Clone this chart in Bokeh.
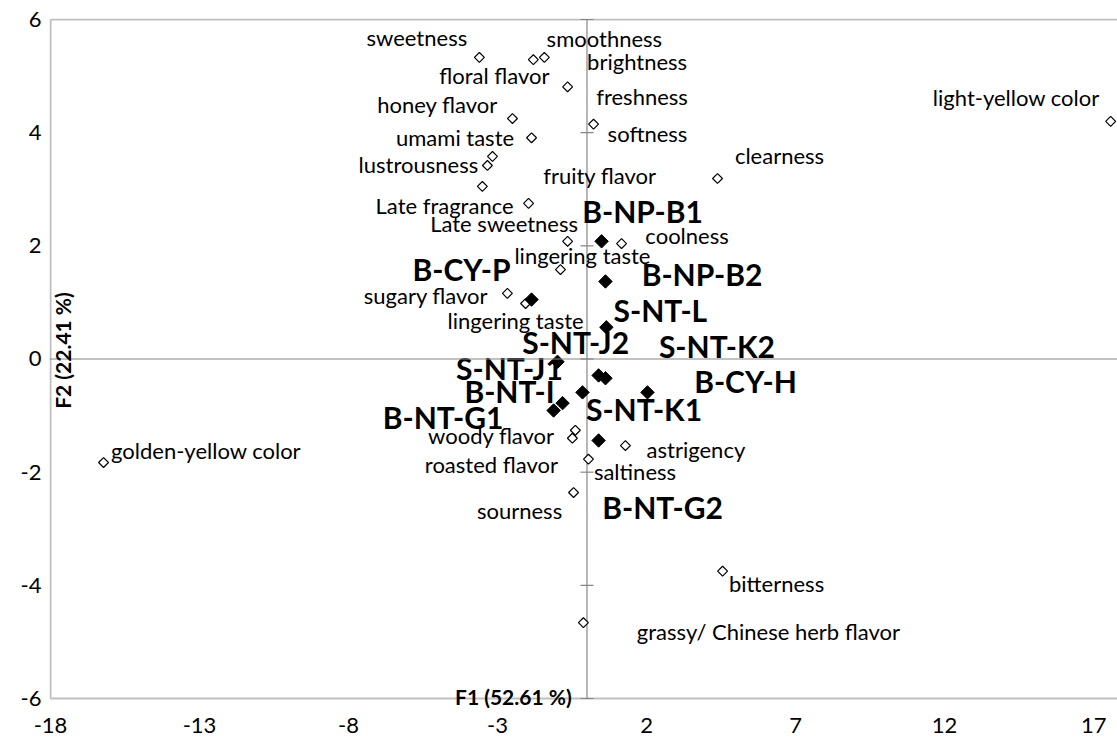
import math
from bokeh.plotting import figure
from bokeh.models import ColumnDataSource, LinearAxis, FixedTicker, Range1d, Label, Span
from bokeh.core.properties import value
from bokeh.embed import file_html
from bokeh.resources import INLINE

# ---------------- data ----------------
attr_names = ["sweetness", "floral flavor", "smoothness", "brightness", "honey flavor",
              "umami taste", "freshness", "softness", "lustrousness", "fruity flavor",
              "clearness", "Late fragrance", "Late sweetness", "coolness", "lingering taste",
              "sugary flavor", "lingering taste", "woody flavor", "roasted flavor", "astrigency",
              "saltiness", "sourness", "bitterness", "grassy/ Chinese herb flavor",
              "golden-yellow color", "light-yellow color"]
attr_f1 = [-3.61, -1.80, -1.43, -0.65, -2.50, -1.86, 0.22, -3.17, -3.34, -3.51,
           4.38, -1.96, -0.65, 1.16, -0.89, -2.67, -2.06, -0.39, -0.49, 1.29,
           0.05, -0.45, 4.55, -0.12, -16.22, 17.57]
attr_f2 = [5.33, 5.29, 5.33, 4.81, 4.25, 3.91, 4.15, 3.58, 3.42, 3.05,
           3.19, 2.75, 2.08, 2.04, 1.58, 1.16, 0.98, -1.26, -1.40, -1.53,
           -1.77, -2.36, -3.75, -4.66, -1.83, 4.20]

sample_names = ["B-NP-B1", "B-NP-B2", "B-CY-P", "S-NT-L", "S-NT-J1", "S-NT-J2",
                "S-NT-K2", "B-CY-H", "S-NT-K1", "B-NT-I", "B-NT-G1", "B-NT-G2"]
sample_f1 = [0.49, 0.62, -1.86, 0.65, -0.99, 0.39, 0.62, 2.03, -0.15, -0.82, -1.12, 0.39]
sample_f2 = [2.08, 1.37, 1.05, 0.56, -0.05, -0.29, -0.34, -0.59, -0.59, -0.78, -0.91, -1.44]

x_ticks = [-18, -13, -8, -3, 2, 7, 12, 17]
y_ticks = [-6, -4, -2, 0, 2, 4, 6]
x_title = "F1 (52.61 %)"
y_title = "F2 (22.41 %)"

# ---------------- layout ----------------
X_MIN, X_MAX = x_ticks[0], 17.8
Y_MIN, Y_MAX = y_ticks[0], y_ticks[-1]
PX_X = 29.8      # pixels per F1 unit
PX_Y = 56.58     # pixels per F2 unit

# label layout (pixel offsets from the marker)
attr_dx = [-62.5, -39, 60, 69.5, -75, -76.5, 48.5, 155, -69, 117.5,
           62, -84, -63.5, 65.5, 22, -81.5, -10, -84, -81, 70.5,
           46.5, -54, 54, 185, 102.5, -11]
attr_dy = [-20, 16, -19, -25, -14, 0, -28, -23, -1, -11,
           -23, 2, -18, -8, -14, 2, 17, 5, 26, 4,
           12, 18, 12, 9, -12, -24]
attr_align = ["center"] * 25 + ["right"]

sample_dx = [41, 96.5, -70, 54, -48, -23, 111.5, 98, 61.5, -53, -110.5, 64]
sample_dy = [-30, -7, -31, -17, 6, -33, -32, -11, 17, -12, 7, 67]

FONT = "Lato"
AXIS_GREY = "#868686"
FRAME_GREY = "#BFBFBF"

attr_src = ColumnDataSource(dict(x=attr_f1, y=attr_f2, name=attr_names,
                                 dx=attr_dx, dy=attr_dy, align=attr_align))
sample_src = ColumnDataSource(dict(x=sample_f1, y=sample_f2, name=sample_names,
                                   dx=sample_dx, dy=sample_dy))
ytick_src = ColumnDataSource(dict(x=[0] * len(y_ticks), y=y_ticks))

p = figure(width=1117, height=740, output_backend="svg", toolbar_location=None,
           x_range=Range1d(X_MIN - 1 / PX_X, X_MAX),
           y_range=Range1d(Y_MIN - 10 / PX_Y, Y_MAX + 1 / PX_Y),
           x_axis_type=None, y_axis_type=None,
           min_border_left=49, min_border_right=0, min_border_top=18, min_border_bottom=32)
p.xgrid.visible = False
p.ygrid.visible = False
p.outline_line_color = None
p.background_fill_color = "white"
p.border_fill_color = "white"

# tick-label axes
xlab = LinearAxis(ticker=FixedTicker(ticks=x_ticks), axis_line_color=None,
                  major_tick_line_color=None, minor_tick_line_color=None,
                  major_tick_in=0, major_tick_out=0,
                  major_label_text_font=FONT, major_label_text_font_size="22px",
                  major_label_text_color="black", major_label_standoff=9,
                  major_label_overrides={t: str(t) for t in x_ticks})
ylab = LinearAxis(ticker=FixedTicker(ticks=y_ticks), axis_line_color=None,
                  major_tick_line_color=None, minor_tick_line_color=None,
                  major_tick_in=0, major_tick_out=0,
                  major_label_text_font=FONT, major_label_text_font_size="22px",
                  major_label_text_color="black", major_label_standoff=8,
                  major_label_overrides={t: str(t) for t in y_ticks})
p.add_layout(xlab, "below")
p.add_layout(ylab, "left")

# plot-area border (left, top, bottom)
p.segment(x0=[X_MIN, X_MIN, X_MIN], y0=[Y_MIN, Y_MAX, Y_MIN],
          x1=[X_MIN, X_MAX, X_MAX], y1=[Y_MAX, Y_MAX, Y_MIN],
          line_color=FRAME_GREY, line_width=2)

# axes crossing at the origin
p.add_layout(Span(location=0, dimension="width", line_color=AXIS_GREY, line_width=1.2))
p.segment(x0=[0], y0=[Y_MIN], x1=[0], y1=[Y_MAX], line_color=AXIS_GREY, line_width=1.2)
p.scatter(x="x", y="y", source=ytick_src, marker="dash", size=13,
          line_color=AXIS_GREY, line_width=1.2)

# markers
p.scatter(x="x", y="y", source=attr_src, marker="square", angle=math.pi / 4,
          size=7, fill_color="white", line_color="black", line_width=1.2)
p.scatter(x="x", y="y", source=sample_src, marker="square", angle=math.pi / 4,
          size=9.5, fill_color="black", line_color="black", line_width=1)

# labels
p.text(x="x", y="y", text="name", source=attr_src, x_offset="dx", y_offset="dy",
       text_align="align", text_baseline="middle", text_font=value(FONT),
       text_font_size="22px", text_color="black")
p.text(x="x", y="y", text="name", source=sample_src, x_offset="dx", y_offset="dy",
       text_align="center", text_baseline="middle", text_font=value(FONT),
       text_font_size="30px", text_font_style="bold", text_color="black")

# axis titles
p.add_layout(Label(x=-2.47, y=-5.96, text=x_title, text_font=FONT, text_font_size="21px",
                   text_font_style="bold", text_align="center", text_baseline="middle",
                   text_color="black"))
p.add_layout(Label(x=-17.6, y=0.15, text=y_title, text_font=FONT, text_font_size="21px",
                   text_font_style="bold", text_align="center", text_baseline="middle",
                   angle=math.pi / 2, text_color="black"))

open("out.html", "w").write(file_html(p, INLINE))
